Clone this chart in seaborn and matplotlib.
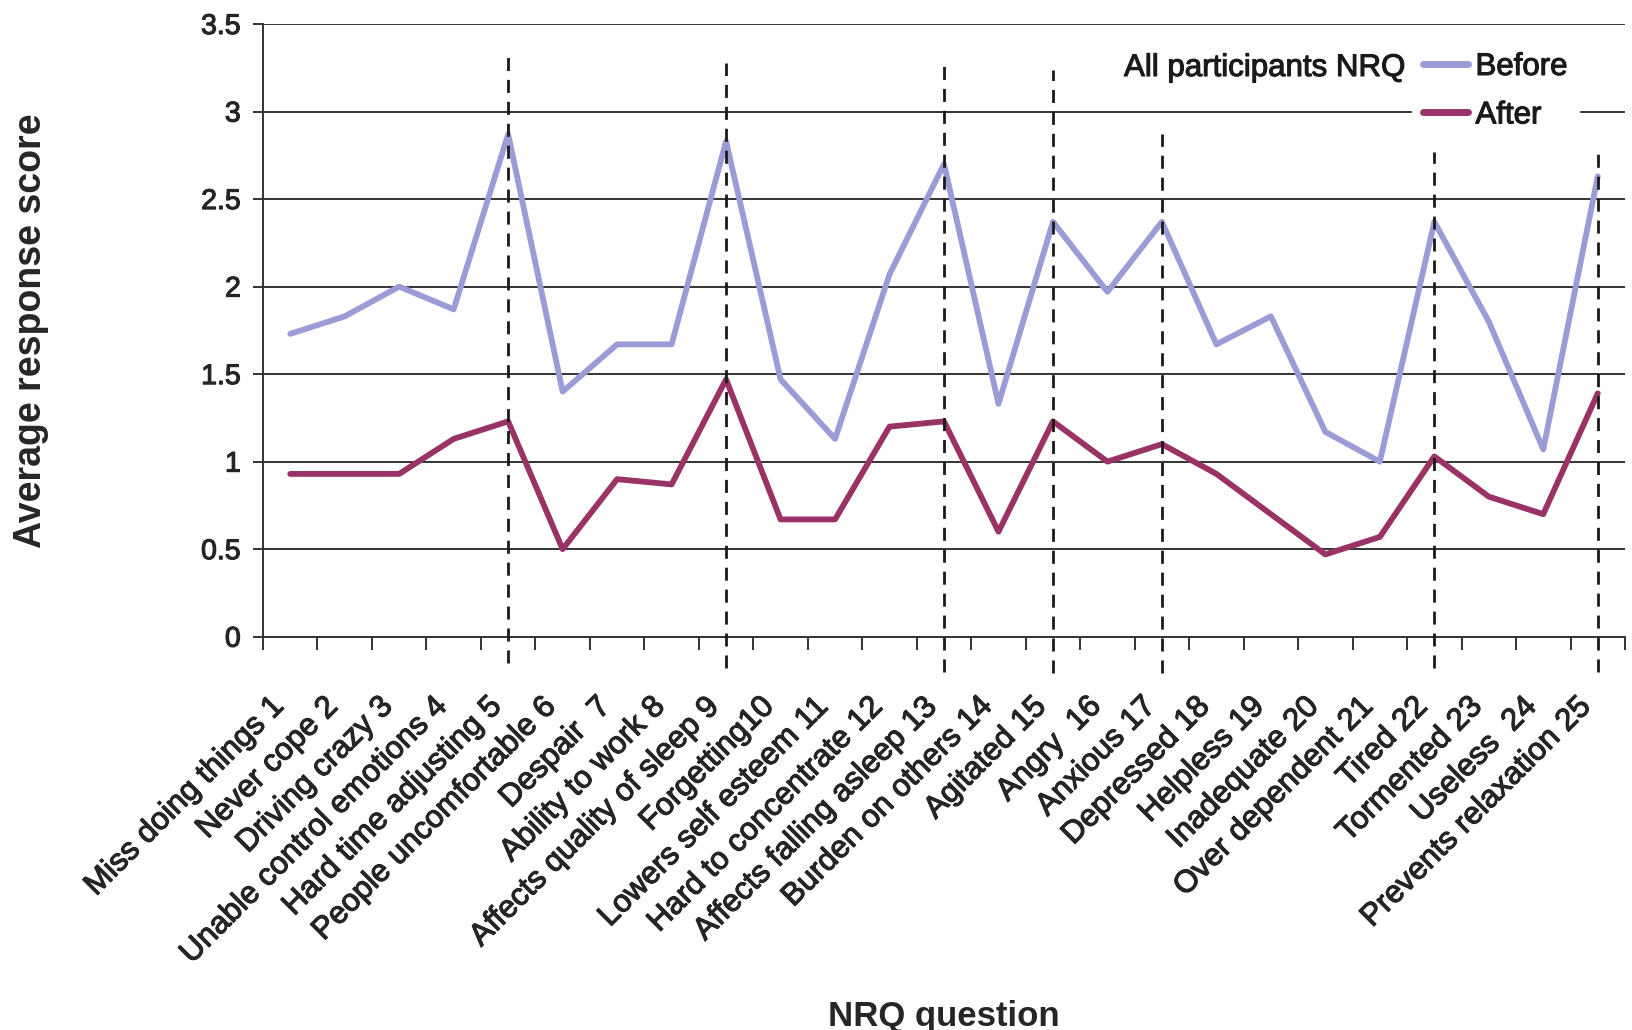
import matplotlib
matplotlib.use("Agg")
import matplotlib.pyplot as plt
import matplotlib.patheffects as pe
import matplotlib.transforms as mtransforms
import seaborn as sns
import pandas as pd
import numpy as np

# NRQ questions (x categories)
questions = [
    "Miss doing things 1", "Never cope 2", "Driving crazy 3", "Unable control emotions 4",
    "Hard time adjusting 5", "People uncomfortable 6", "Despair  7", "Ability to work 8",
    "Affects quality of sleep 9", "Forgetting10", "Lowers self esteem 11",
    "Hard to concentrate 12", "Affects falling asleep 13", "Burden on others 14",
    "Agitated 15", "Angry  16", "Anxious 17", "Depressed 18", "Helpless 19",
    "Inadequate 20", "Over dependent 21", "Tired 22", "Tormented 23", "Useless  24",
    "Prevents relaxation 25",
]

# Average response scores
before = [1.73, 1.83, 2.00, 1.87, 2.87, 1.40, 1.67, 1.67, 2.83, 1.47, 1.13, 2.07, 2.70,
          1.33, 2.37, 1.97, 2.37, 1.67, 1.83, 1.17, 1.00, 2.37, 1.80, 1.07, 2.63]
after = [0.93, 0.93, 0.93, 1.13, 1.23, 0.50, 0.90, 0.87, 1.47, 0.67, 0.67, 1.20, 1.23,
         0.60, 1.23, 1.00, 1.10, 0.93, 0.70, 0.47, 0.57, 1.03, 0.80, 0.70, 1.39]

# Dashed markers on selected questions (question number, top, bottom)
marked_questions = [5, 9, 13, 15, 17, 22, 25]
marker_tops = [3.31, 3.28, 3.26, 3.24, 2.87, 2.77, 2.76]
marker_bottoms = [-0.15, -0.18, -0.20, -0.21, -0.21, -0.18, -0.20]

series_names = ["Before", "After"]
series_colors = ["#9b9bd6", "#993366"]
y_ticks = [0, 0.5, 1, 1.5, 2, 2.5, 3, 3.5]
y_tick_labels = ["0", "0.5", "1", "1.5", "2", "2.5", "3", "3.5"]

n = len(questions)
idx = np.arange(n)
df = pd.DataFrame({
    "q": np.concatenate([idx, idx]),
    "score": before + after,
    "period": ["Before"] * n + ["After"] * n,
})

sns.set_theme(style="white")
plt.rcParams["font.family"] = ["Liberation Sans", "DejaVu Sans"]
TEXT = "#1a1a1a"
plt.rcParams["text.color"] = TEXT
heavy = [pe.withStroke(linewidth=0.8, foreground=TEXT)]

W, H = 1633, 1030
fig = plt.figure(figsize=(W / 100, H / 100), dpi=100)
ax = fig.add_axes([263 / W, 1 - 636.7 / H, (1625 - 263) / W, (636.7 - 24) / H])

# horizontal gridlines
for yv in y_ticks[1:]:
    ax.axhline(yv, color="#333333", lw=1.4, zorder=1)

sns.lineplot(data=df, x="q", y="score", hue="period", hue_order=series_names,
             palette=series_colors, linewidth=4.2, sort=False, ax=ax, zorder=3,
             legend=True)

# dashed markers
ax.vlines([q - 1 for q in marked_questions], marker_bottoms, marker_tops,
          colors="#1a1a1a", linestyles=(0, (4.7, 3.2)), linewidth=2.0,
          zorder=6, clip_on=False)

ax.set_xlim(-0.5, n - 0.5)
ax.set_ylim(0, 3.5)

for s in ["top", "right"]:
    ax.spines[s].set_visible(False)
for s in ["left", "bottom"]:
    ax.spines[s].set_color("#333333")
    ax.spines[s].set_linewidth(1.4)

# y axis
ax.set_yticks(y_ticks)
ax.set_yticklabels(y_tick_labels, fontsize=20.5)
ax.tick_params(axis="y", direction="out", length=7, width=1.4, color="#333333",
               pad=9, left=True)
for t in ax.get_yticklabels():
    t.set_path_effects(heavy)

# x axis: tick marks between categories, labels at category centres
ax.set_xticks(np.arange(n + 1) - 0.5)
ax.set_xticklabels([])
ax.tick_params(axis="x", which="major", direction="out", length=9, width=1.4,
               color="#333333", bottom=True)
ax.set_xticks(idx, minor=True)
ax.set_xticklabels(questions, minor=True, rotation=45, ha="right", va="center",
                   rotation_mode="anchor", fontsize=22.5)
ax.tick_params(axis="x", which="minor", length=0, pad=47)
shift = mtransforms.ScaledTranslation(-11 / 100, 0, fig.dpi_scale_trans)
for t in ax.get_xticklabels(minor=True):
    t.set_transform(t.get_transform() + shift)
    t.set_path_effects(heavy)

ax.set_ylabel("Average response score", fontsize=27, fontweight="bold")
ax.yaxis.set_label_coords(-0.157, 0.5)
ax.set_xlabel("NRQ question", fontsize=25, fontweight="bold")
ax.xaxis.set_label_coords(0.5, -0.593)

# legend with title to its left
handles, labels = ax.get_legend_handles_labels()
leg = ax.legend(handles, labels, loc="upper left",
                bbox_to_anchor=(1412 / W, 1 - 41 / H), bbox_transform=fig.transFigure,
                frameon=True, facecolor="white", edgecolor="white", framealpha=1,
                fancybox=False, borderpad=0.35, handlelength=1.45, handletextpad=0.23,
                labelspacing=0.59, fontsize=22.5, borderaxespad=0)
for line in leg.get_lines():
    line.set_linewidth(5.0)
for t in leg.get_texts():
    t.set_path_effects(heavy)
leg.set_zorder(5)
fig.text(1406 / W, 1 - 76 / H, "All participants NRQ", ha="right", va="baseline",
         fontsize=22.5, path_effects=heavy)

fig.savefig("out.png", dpi=100, facecolor="white")
